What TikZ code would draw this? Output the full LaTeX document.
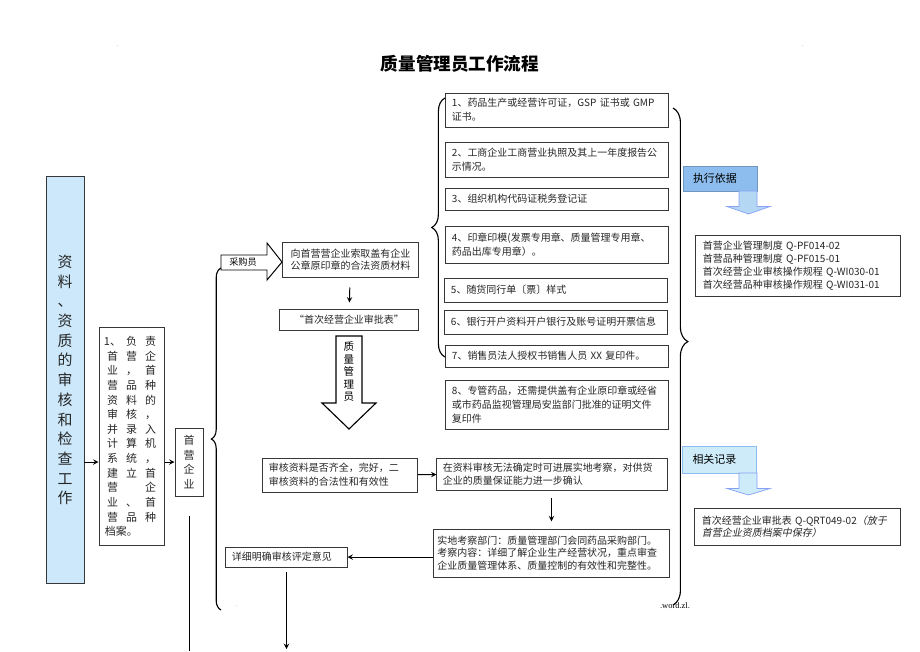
\documentclass[tikz,border=0pt]{standalone}
\usepackage{fontspec}
\setmainfont{Noto Sans CJK SC}
\newfontfamily\slantfont[FakeSlant=0.2]{Noto Sans CJK SC}
\newfontfamily\markfont{Liberation Serif}
\usetikzlibrary{decorations.pathreplacing}

\definecolor{leftblue}{RGB}{204,232,250}
\definecolor{basisblue}{RGB}{141,189,238}
\definecolor{arrowblue}{RGB}{180,215,244}
\definecolor{recordblue}{RGB}{205,235,249}
\definecolor{edgegray}{RGB}{55,55,55}

% one row of the narrow duty box
\newcommand{\trow}[3]{\makebox[0.475cm]{#1}\makebox[0.475cm]{#2}\makebox[0.475cm]{#3}}

\begin{document}
\begin{tikzpicture}[
    x=0.025cm, y=-0.025cm,
    box/.style={rectangle, draw=edgegray, line width=0.7pt, fill=white, text=black!85, inner xsep=0.15cm, inner ysep=0pt, font=\fontsize{7.1}{10}\selectfont},
    item/.style={box, minimum width=5.55cm, text width=5.25cm, align=left},
    tag/.style={rectangle, minimum width=1.85cm, text width=1.35cm, inner xsep=0.25cm, align=left, font=\fontsize{7.8}{9}\selectfont},
    hollow/.style={line width=0.8pt, fill=white},
    blockblue/.style={fill=arrowblue, draw=arrowblue!75!blue, line width=0.5pt},
    brc/.style={decorate, line width=0.8pt},
    arrow/.style={->, >=stealth, line width=0.7pt}
]
\useasboundingbox (0,0) rectangle (920,651);

\node[font=\fontsize{12.5}{14}\selectfont\bfseries] (title) at (460,64) {质量管理员工作流程};
\node[font=\fontsize{3}{3}\selectfont] (dotA) at (118,46) {.};
\node[font=\fontsize{3}{3}\selectfont] (dotB) at (803,46) {.};

% left column
\node[box, fill=leftblue, minimum width=0.95cm, minimum height=10.15cm, inner xsep=0pt, align=center, font=\fontsize{10.6}{14}\selectfont] (reviewbox) at (65,380)
    {资\\料\\、\\资\\质\\的\\审\\核\\和\\检\\查\\工\\作};
\node[box, minimum width=1.625cm, minimum height=5.425cm, inner xsep=0pt, align=left, font=\fontsize{7.8}{10.4}\selectfont] (duty) at (131.5,436.5)
    {\trow{1、}{负}{责}\\\trow{首}{营}{企}\\\trow{业}{，}{首}\\\trow{营}{品}{种}\\\trow{资}{料}{的}\\\trow{审}{核}{，}\\\trow{并}{录}{入}\\
     \trow{计}{算}{机}\\\trow{系}{统}{，}\\\trow{建}{立}{首}\\\trow{营}{}{企}\\\trow{业}{、}{首}\\\trow{营}{品}{种}\\\makebox[1.425cm][l]{\hspace{0.05cm}档案。}};
\node[box, minimum width=0.7cm, minimum height=1.7cm, inner xsep=0pt, align=center, font=\fontsize{7.8}{10.6}\selectfont] (firstent) at (189,462) {首\\营\\企\\业};
\coordinate (stemend) at (188,651);

% buyer branch
\draw[hollow, line width=0.7pt] (221,255) -- (267,255) -- (267,243) -- (282,262) -- (267,280) -- (267,270) -- (221,270) -- cycle;
\node[font=\fontsize{6.5}{8}\selectfont] (buyer) at (243,262.5) {采购员};
\node[box, minimum width=3.375cm, minimum height=0.875cm, align=center, font=\fontsize{7.1}{8.8}\selectfont] (request) at (350.5,259.5)
    {向首营营企业索取盖有企业\\公章原印章的合法资质材料};
\node[box, minimum width=3.45cm, minimum height=0.525cm] (form) at (349,319.5) {“首次经营企业审批表”};
\draw[hollow] (336,336) -- (362,336) -- (362,403) -- (376,403) -- (349,429) -- (322,403) -- (336,403) -- cycle;
\node[align=center, font=\fontsize{7.5}{8.9}\selectfont] (qm) at (349,372) {质\\量\\管\\理\\员};

% documents
\node[item, minimum height=0.85cm] (item1) at (557,110) {1、药品生产或经营许可证，GSP 证书或 GMP\\证书。};
\node[item, minimum height=0.875cm] (item2) at (557,159.5) {2、工商企业工商营业执照及其上一年度报告公\\示情况。};
\node[item, minimum height=0.55cm] (item3) at (557,199) {3、组织机构代码证税务登记证};
\node[item, minimum height=0.925cm] (item4) at (557,244.5) {4、印章印模(发票专用章、质量管理专用章、\\药品出库专用章）。};
\node[item, minimum height=0.6cm] (item5) at (556,290) {5、随货同行单〔票〕样式};
\node[item, minimum height=0.6cm] (item6) at (556,322) {6、银行开户资料开户银行及账号证明开票信息};
\node[item, minimum height=0.55cm] (item7) at (557,356) {7、销售员法人授权书销售人员 XX 复印件。};
\node[item, minimum height=1.225cm] (item8) at (557,404.5) {8、专管药品，还需提供盖有企业原印章或经省\\或市药品监视管理局安监部门批准的证明文件\\复印件};

% review branch
\node[box, minimum width=3.85cm, minimum height=0.85cm, text width=3.55cm, align=left] (check) at (340,475) {审核资料是否齐全，完好，二\\审核资料的合法性和有效性};
\node[box, minimum width=5.75cm, minimum height=0.8cm, text width=5.45cm, align=left, font=\fontsize{7.1}{9.3}\selectfont] (onsite) at (552,474) {在资料审核无法确定时可进展实地考察，对供货\\企业的质量保证能力进一步确认};
\node[box, minimum width=5.875cm, minimum height=1.2cm, text width=5.7cm, inner xsep=0.0875cm, align=left, font=\fontsize{7.1}{8.9}\selectfont] (dept) at (551.5,553) {实地考察部门：质量管理部门会同药品采购部门。\\考察内容：详细了解企业生产经营状况，重点审查\\企业质量管理体系、质量控制的有效性和完整性。};
\node[box, minimum width=3.025cm, minimum height=0.5cm, text width=2.725cm, align=left] (opinion) at (286.5,557) {详细明确审核评定意见};
\coordinate (exit) at (286.5,649);

% basis and records
\node[tag, fill=basisblue, draw=basisblue!80!black, line width=0.5pt, minimum height=0.625cm] (basis) at (720,178.5) {执行依据};
\draw[blockblue] (739,191) -- (757,191) -- (757,206.5) -- (770,206.5) -- (748.5,214) -- (727,206.5) -- (739,206.5) -- cycle;
\node[box, minimum width=5.1cm, minimum height=1.525cm, text width=4.75cm, inner xsep=0.175cm, align=left, font=\fontsize{7.1}{9.2}\selectfont] (basislist) at (798,265.5)
    {首营企业管理制度 Q-PF014-02\\首营品种管理制度 Q-PF015-01\\首次经营企业审核操作规程 Q-WI030-01\\首次经营品种审核操作规程 Q-WI031-01};
\node[tag, fill=recordblue, draw=basisblue, line width=0.5pt, minimum height=0.675cm] (record) at (719.5,459.5) {相关记录};
\draw[blockblue, fill=recordblue] (739,473) -- (757,473) -- (757,488.5) -- (770,488.5) -- (748.5,495) -- (727,488.5) -- (739,488.5) -- cycle;
\node[box, minimum width=5.125cm, minimum height=0.925cm, text width=4.775cm, inner xsep=0.175cm, align=left, font=\fontsize{7.1}{8.8}\selectfont] (recordlist) at (797.5,526.5)
    {首次经营企业审批表 Q-QRT049-02{\slantfont （放于}\\{\slantfont 首营企业资质档案中保存）}};

\node[font=\markfont\fontsize{6}{7}\selectfont] (wordmark) at (675,606) {.word.zl.};
\node[font=\fontsize{3}{3}\selectfont] (dotC) at (237,606) {.};

% Braces
\draw[brc, decoration={brace, amplitude=0.24cm}] (221,610) -- (221,268);
\draw[brc, decoration={brace, amplitude=0.33cm}] (445,357) -- (445,98);
\draw[brc, decoration={brace, amplitude=0.37cm, aspect=0.47}] (673,108) -- (673,605);

% Arrows
\draw[arrow] (reviewbox.east |- firstent) -- (duty.west |- firstent);
\draw[arrow] (duty.east |- firstent) -- (firstent);
\draw[line width=0.7pt, shorten <=0.475cm] (firstent.south) -- (firstent.south |- stemend);
\draw[arrow, shorten <=0.25cm, shorten >=0.15cm] (request) -- (form);
\draw[arrow] (check) -- (onsite);
\draw[arrow, shorten <=0.18cm, shorten >=0.18cm] (onsite.south -| dept) -- (dept);
\draw[arrow] (dept.west |- opinion) -- (opinion);
\draw[arrow, shorten <=0.1cm] (opinion) -- (exit);

\end{tikzpicture}
\end{document}
